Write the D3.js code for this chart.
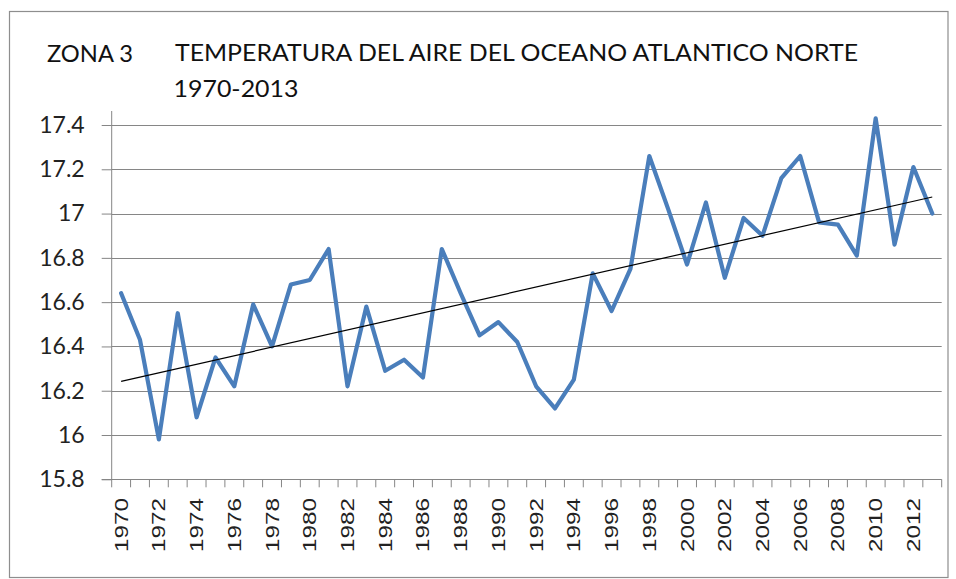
<!DOCTYPE html>
<html>
<head>
<meta charset="utf-8">
<script src="https://cdn.jsdelivr.net/npm/d3@7"></script>
<style>
  html, body { margin: 0; padding: 0; background: #fff; }
  svg { display: block; }
</style>
</head>
<body>
<svg id="chart" width="956" height="579"></svg>
<script>
const years = d3.range(1970, 2014);
const temps = [
  16.64, 16.43, 15.98, 16.55, 16.08, 16.35, 16.22, 16.59, 16.40, 16.68,
  16.70, 16.84, 16.22, 16.58, 16.29, 16.34, 16.26, 16.84, 16.64, 16.45,
  16.51, 16.42, 16.22, 16.12, 16.25, 16.73, 16.56, 16.75, 17.26, 17.02,
  16.77, 17.05, 16.71, 16.98, 16.90, 17.16, 17.26, 16.96, 16.95, 16.81,
  17.43, 16.86, 17.21, 17.00
];
const yTicks = [15.8, 16, 16.2, 16.4, 16.6, 16.8, 17, 17.2, 17.4];
const yTickLabels = ["15.8", "16", "16.2", "16.4", "16.6", "16.8", "17", "17.2", "17.4"];
const xTickLabels = years.filter(y => y % 2 === 0);
const titleZone = "ZONA 3";
const titleLine1 = "TEMPERATURA DEL AIRE DEL OCEANO ATLANTICO NORTE";
const titleLine2 = "1970-2013";

const svg = d3.select("#chart");
const plotLeft = 111.7, plotRight = 941.7, plotBottom = 479.3, plotTop = 125;

// border
svg.append("rect").attr("x", 9.5).attr("y", 11.5).attr("width", 938.5).attr("height", 566)
  .attr("fill", "#fff").attr("stroke", "#8e8e8e").attr("stroke-width", 1.2);

const x = d3.scaleBand().domain(years).range([plotLeft, plotRight]).padding(0);
const y = d3.scaleLinear().domain([15.8, 17.4]).range([plotBottom, plotTop]);
const cx = d => x(d) + x.bandwidth() / 2;

// gridlines
svg.append("g").selectAll("line").data(yTicks.filter(v => v > 15.8)).join("line")
  .attr("x1", plotLeft).attr("x2", plotRight)
  .attr("y1", d => Math.round(y(d)) + 0.5).attr("y2", d => Math.round(y(d)) + 0.5)
  .attr("stroke", "#868686").attr("stroke-width", 1);

// y axis
const yAxis = d3.axisLeft(y).tickValues(yTicks).tickSize(10).tickPadding(17)
  .tickFormat((d, i) => yTickLabels[i]);
const gy = svg.append("g").attr("transform", `translate(${plotLeft},0)`).call(yAxis);
gy.select(".domain").remove();
gy.selectAll(".tick line").attr("stroke", "#868686");
gy.selectAll(".tick text").attr("font-family", "Lato, 'Open Sans', sans-serif")
  .attr("font-size", 23).attr("fill", "#222");
svg.append("line").attr("x1", plotLeft).attr("x2", plotLeft)
  .attr("y1", plotTop - 14).attr("y2", plotBottom)
  .attr("stroke", "#868686");

// x axis
const gx = svg.append("g");
gx.append("line").attr("x1", plotLeft - 10).attr("x2", plotRight)
  .attr("y1", Math.round(plotBottom) + 0.5).attr("y2", Math.round(plotBottom) + 0.5)
  .attr("stroke", "#868686");
const edges = years.map(d => x(d)).concat([plotRight]);
gx.selectAll("line.tk").data(edges).join("line").attr("class", "tk")
  .attr("x1", d => d).attr("x2", d => d)
  .attr("y1", plotBottom).attr("y2", plotBottom + 8)
  .attr("stroke", "#868686");
gx.selectAll("text").data(xTickLabels).join("text")
  .attr("transform", d => `translate(${cx(d) + 6.5},498) rotate(-90)`)
  .attr("text-anchor", "end")
  .attr("font-family", "'Liberation Sans', Arial, sans-serif")
  .attr("font-size", 19)
  .attr("textLength", 54).attr("lengthAdjust", "spacingAndGlyphs")
  .attr("fill", "#222")
  .text(d => d);

// trend line (least squares)
const n = years.length;
const mx = d3.mean(years), my = d3.mean(temps);
const slope = d3.sum(years, (d, i) => (d - mx) * (temps[i] - my)) / d3.sum(years, d => (d - mx) ** 2);
const icpt = my - slope * mx;

// data line
const line = d3.line().x((d, i) => cx(years[i])).y(d => y(d));
svg.append("path").datum(temps).attr("d", line)
  .attr("fill", "none").attr("stroke", "#4a7ebb").attr("stroke-width", 4.2)
  .attr("stroke-linejoin", "round").attr("stroke-linecap", "round");

svg.append("line")
  .attr("x1", cx(years[0])).attr("y1", y(icpt + slope * years[0]))
  .attr("x2", cx(years[n - 1])).attr("y2", y(icpt + slope * years[n - 1]))
  .attr("stroke", "#000").attr("stroke-width", 1.2);

// titles
const tf = "Lato, 'Open Sans', sans-serif";
svg.append("text").attr("x", 47).attr("y", 61.5).attr("font-family", tf).attr("font-size", 23)
  .attr("fill", "#111").attr("textLength", 86).attr("lengthAdjust", "spacingAndGlyphs").text(titleZone);
svg.append("text").attr("x", 175).attr("y", 60.5).attr("font-family", tf).attr("font-size", 23)
  .attr("fill", "#111").attr("textLength", 683).attr("lengthAdjust", "spacingAndGlyphs").text(titleLine1);
svg.append("text").attr("x", 173.5).attr("y", 97).attr("font-family", tf).attr("font-size", 23)
  .attr("fill", "#111").attr("textLength", 125).attr("lengthAdjust", "spacingAndGlyphs").text(titleLine2);
</script>
</body>
</html>
